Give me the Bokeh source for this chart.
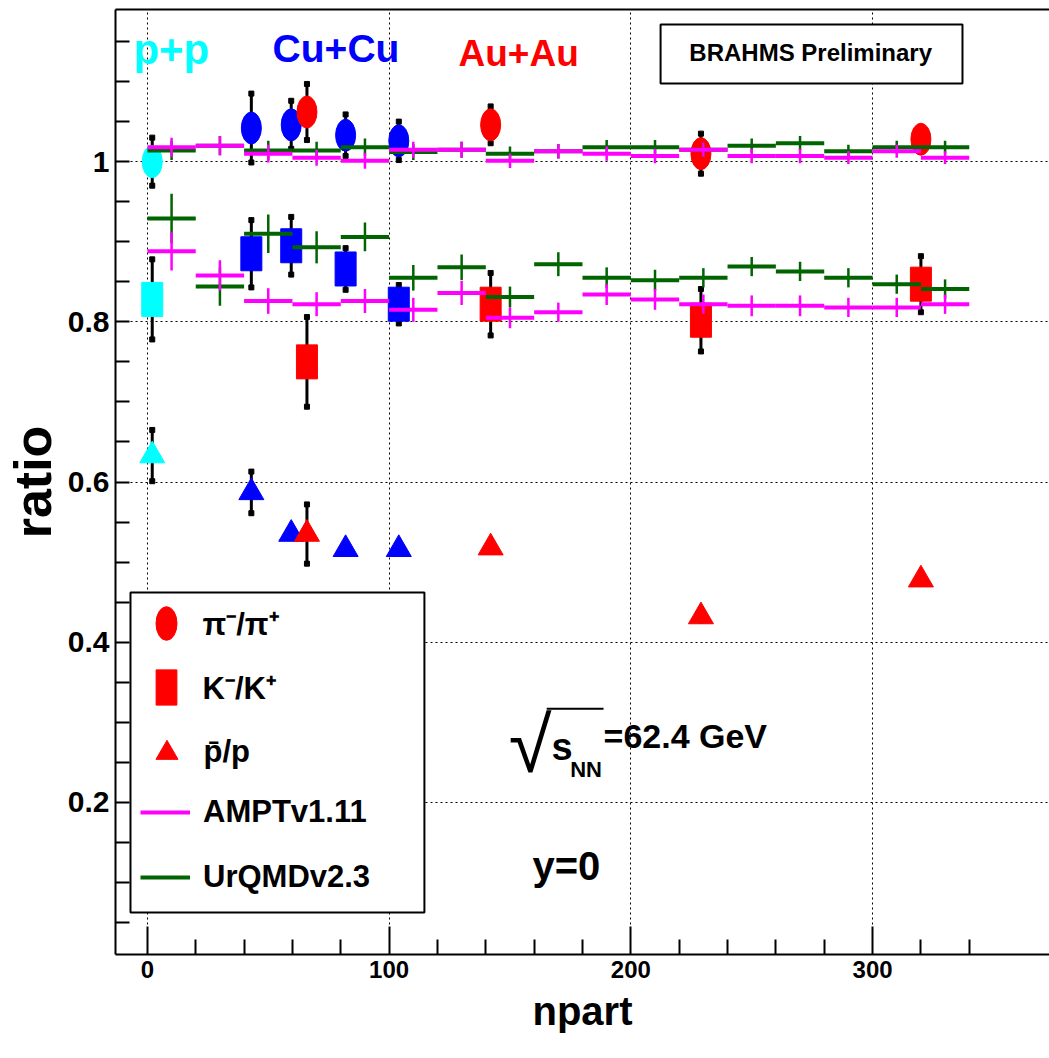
from bokeh.plotting import figure
from bokeh.models import (Range1d, FixedTicker, LinearAxis, Label, BoxAnnotation,
                          Legend, LegendItem, PrintfTickFormatter, Arrow)
from bokeh.embed import file_html
from bokeh.resources import INLINE

FONT = "Liberation Sans"

# ---- measured ratios at y=0, sqrt(s_NN)=62.4 GeV ----
pp_npart = [2]
pp_pi = [1.000]
pp_pi_err = [0.030]
pp_k = [0.828]
pp_k_err = [0.050]
pp_pbar = [0.633]
pp_pbar_err = [0.032]

cu_npart = [43, 59.5, 82, 104]
cu_pi = [1.042, 1.046, 1.033, 1.026]
cu_pi_err = [0.043, 0.030, 0.026, 0.024]
cu_k = [0.885, 0.895, 0.866, 0.822]
cu_k_err = [0.042, 0.036, 0.026, 0.024]
cu_pbar = [0.587, 0.535, 0.516, 0.516]
cu_pbar_err = [0.026, 0.005, 0.005, 0.005]

au_npart = [66, 142, 229, 320]
au_pi = [1.062, 1.046, 1.010, 1.028]
au_pi_err = [0.035, 0.023, 0.025, 0.008]
au_k = [0.750, 0.822, 0.802, 0.847]
au_k_err = [0.056, 0.039, 0.039, 0.035]
au_pbar = [0.535, 0.518, 0.432, 0.478]
au_pbar_err = [0.037, 0.005, 0.005, 0.005]

# ---- model predictions, histogrammed in npart bins ----
bin_lo = [0, 20, 40, 60, 80, 100, 120, 140, 160, 180, 200, 220, 240, 260, 280, 300, 320]
bin_hi = [20, 40, 60, 80, 100, 120, 140, 160, 180, 200, 220, 240, 260, 280, 300, 320, 340]

ampt_pi = [1.018, 1.020, 1.010, 1.005, 1.001, 1.015, 1.015, 1.001, 1.013, 1.010,
           1.007, 1.015, 1.007, 1.007, 1.005, 1.013, 1.005]
ampt_pi_err = [0.012, 0.012, 0.011, 0.010, 0.010, 0.010, 0.010, 0.009, 0.009, 0.009,
               0.009, 0.009, 0.009, 0.009, 0.008, 0.008, 0.008]
ampt_k = [0.888, 0.858, 0.826, 0.822, 0.826, 0.815, 0.836, 0.805, 0.812, 0.834,
          0.828, 0.822, 0.820, 0.820, 0.818, 0.818, 0.822]
ampt_k_err = [0.024, 0.019, 0.016, 0.015, 0.015, 0.015, 0.015, 0.013, 0.012, 0.013,
              0.013, 0.012, 0.013, 0.013, 0.012, 0.012, 0.012]

urqmd_pi = [1.014, 1.020, 1.014, 1.014, 1.018, 1.012, 1.015, 1.010, 1.013, 1.018,
            1.018, 1.015, 1.020, 1.023, 1.013, 1.018, 1.018]
urqmd_pi_err = [0.012, 0.012, 0.012, 0.011, 0.011, 0.010, 0.010, 0.009, 0.009, 0.009,
                0.009, 0.009, 0.009, 0.009, 0.008, 0.008, 0.008]
urqmd_k = [0.929, 0.844, 0.910, 0.893, 0.906, 0.855, 0.868, 0.831, 0.872, 0.855,
           0.852, 0.855, 0.869, 0.863, 0.855, 0.847, 0.841]
urqmd_k_err = [0.031, 0.024, 0.024, 0.020, 0.018, 0.016, 0.016, 0.013, 0.015, 0.013,
               0.013, 0.012, 0.012, 0.012, 0.012, 0.012, 0.012]

x_major = [0, 100, 200, 300]
x_minor = [20, 40, 60, 80, 120, 140, 160, 180, 220, 240, 260, 280, 320, 340]
y_major = [0.2, 0.4, 0.6, 0.8, 1.0]
y_minor = [0.05, 0.1, 0.15, 0.25, 0.3, 0.35, 0.45, 0.5, 0.55, 0.65, 0.7, 0.75,
           0.85, 0.9, 0.95, 1.05, 1.1, 1.15]

CYAN, BLUE, RED = "#00ffff", "#0000ff", "#ff0000"
MAGENTA, GREEN = "#ff00ff", "#006400"

FRAME_LEFT, FRAME_BOTTOM = 115, 954

p = figure(width=1049, height=1058, output_backend="svg", toolbar_location=None,
           x_range=Range1d(-13.2, 373.2), y_range=Range1d(0.01, 1.19),
           min_border_left=FRAME_LEFT, min_border_right=0, min_border_top=9,
           min_border_bottom=104, background_fill_color="white",
           border_fill_color="white")
p.outline_line_color = None

# axes
p.xaxis.ticker = FixedTicker(ticks=x_major, minor_ticks=x_minor)
p.yaxis.ticker = FixedTicker(ticks=y_major, minor_ticks=y_minor)
p.yaxis.formatter = PrintfTickFormatter(format="%g")
for ax in (p.xaxis[0], p.yaxis[0]):
    ax.axis_line_width = 2
    ax.axis_line_color = "black"
    ax.major_tick_line_width = 2
    ax.minor_tick_line_width = 2
    ax.major_tick_out = 0
    ax.minor_tick_out = 0
    ax.major_label_text_font = FONT
    ax.major_label_text_font_style = "bold"
    ax.major_label_text_color = "black"
    ax.major_label_standoff = 6
    ax.axis_label_text_font = FONT
    ax.axis_label_text_font_style = "bold"
    ax.axis_label_text_color = "black"

p.xaxis.major_tick_in = 28
p.xaxis.minor_tick_in = 15
p.xaxis.major_label_text_font_size = "24px"
p.xaxis.axis_label = "npart"
p.xaxis.axis_label_text_font_size = "40px"
p.xaxis.axis_label_standoff = 8

p.yaxis.major_tick_in = 14
p.yaxis.minor_tick_in = 14
p.yaxis.major_label_text_font_size = "30px"
p.yaxis.axis_label = "ratio"
p.yaxis.axis_label_text_font_size = "52px"
p.yaxis.axis_label_standoff = 3

top = LinearAxis(ticker=FixedTicker(ticks=[]), axis_line_width=2,
                 major_label_text_font_size="0px",
                 major_tick_line_color=None, minor_tick_line_color=None)
p.add_layout(top, "above")

for g in (p.xgrid[0], p.ygrid[0]):
    g.grid_line_color = "black"
    g.grid_line_dash = "2 3"
    g.grid_line_width = 1


def draw_system(npart, pi, pi_err, k, k_err, pbar, pbar_err, color):
    xs = list(npart) * 3
    ys = list(pi) + list(k) + list(pbar)
    es = list(pi_err) + list(k_err) + list(pbar_err)
    lo = [y - e for y, e in zip(ys, es)]
    hi = [y + e for y, e in zip(ys, es)]
    p.segment(x0=xs, y0=lo, x1=xs, y1=hi, line_color="black", line_width=3)
    p.scatter(xs + xs, lo + hi, marker="square", size=5, color="black")
    r_pi = p.ellipse(npart, pi, width=20, height=32, width_units="screen",
                     height_units="screen", fill_color=color, line_color=color)
    r_k = p.rect(npart, k, width=21, height=34, width_units="screen",
                 height_units="screen", fill_color=color, line_color=color)
    r_pb = p.scatter(npart, pbar, marker="triangle", size=25,
                     fill_color=color, line_color=color)
    return r_pi, r_k, r_pb


def draw_model(pi_vals, pi_err, k_vals, k_err, color):
    centers = [(a + b) / 2 for a, b in zip(bin_lo, bin_hi)] * 2
    ys = list(pi_vals) + list(k_vals)
    es = list(pi_err) + list(k_err)
    p.segment(x0=centers, y0=[y - e for y, e in zip(ys, es)],
              x1=centers, y1=[y + e for y, e in zip(ys, es)],
              line_color=color, line_width=2.5)
    return p.segment(x0=bin_lo * 2, y0=ys, x1=bin_hi * 2, y1=ys,
                     line_color=color, line_width=4)


draw_system(pp_npart, pp_pi, pp_pi_err, pp_k, pp_k_err, pp_pbar, pp_pbar_err, CYAN)
draw_system(cu_npart, cu_pi, cu_pi_err, cu_k, cu_k_err, cu_pbar, cu_pbar_err, BLUE)
au_pi_r, au_k_r, au_pb_r = draw_system(au_npart, au_pi, au_pi_err, au_k, au_k_err,
                                       au_pbar, au_pbar_err, RED)
urqmd_r = draw_model(urqmd_pi, urqmd_pi_err, urqmd_k, urqmd_k_err, GREEN)
ampt_r = draw_model(ampt_pi, ampt_pi_err, ampt_k, ampt_k_err, MAGENTA)


def text(x, y, txt, size, color="black", style="bold", align="left", font=FONT):
    p.add_layout(Label(x=x, y=y, text=txt, text_font=font, text_font_size=size,
                       text_font_style=style, text_color=color,
                       text_align=align, text_baseline="middle"))


def box(left, right, bottom, top):
    p.add_layout(BoxAnnotation(left=left, right=right, bottom=bottom, top=top,
                               fill_color="white", fill_alpha=1.0,
                               line_color="black", line_alpha=1.0, line_width=2))


# collision-system tags
text(-5.8, 1.140, "p+p", "42px", CYAN)
text(51.8, 1.141, "Cu+Cu", "39px", BLUE)
text(128.7, 1.135, "Au+Au", "37px", RED)

# preliminary tag
box(212.3, 337.2, 1.0976, 1.1713)
text(274.4, 1.1357, "BRAHMS Preliminary", "24px", align="center")

# energy and rapidity
text(149.5, 0.272, "√", "78px", style="normal")
p.add_layout(Arrow(x_start=165.2, y_start=0.3168, x_end=188.7, y_end=0.3168,
                   start=None, end=None, line_color="black", line_width=2))
text(167.2, 0.2697, "s", "38px")
text(174.9, 0.2416, "NN", "22px")
text(188.7, 0.2828, "=62.4 GeV", "34px")
text(159.3, 0.1211, "y=0", "40px")

# legend frame and keys
box(-7.0, 114.6, 0.0624, 0.462)


def add_key(renderer, label, gw, gh, cx, cy, text_x):
    left = cx - gw / 2
    bottom = cy + gh / 2
    leg = Legend(items=[LegendItem(label=label, renderers=[renderer])],
                 location=(left - FRAME_LEFT, FRAME_BOTTOM - bottom),
                 glyph_width=gw, glyph_height=gh, label_height=gh,
                 label_standoff=int(round(text_x - (left + gw))),
                 padding=0, margin=0, spacing=0,
                 border_line_color=None, background_fill_alpha=0,
                 label_text_font=FONT, label_text_font_size="31px",
                 label_text_font_style="bold", label_text_color="black")
    p.add_layout(leg, "center")


add_key(au_pi_r, "π⁻/π⁺", 42, 44, 165.5, 623, 203)
add_key(au_k_r, "K⁻/K⁺", 26, 44, 165.5, 687, 203)
add_key(au_pb_r, "p̄/p", 55, 55, 166, 752, 203)
add_key(ampt_r, "AMPTv1.11", 50, 44, 165, 812, 203)
add_key(urqmd_r, "UrQMDv2.3", 50, 44, 165, 877, 203)

with open("out.html", "w") as f:
    f.write(file_html(p, INLINE))
